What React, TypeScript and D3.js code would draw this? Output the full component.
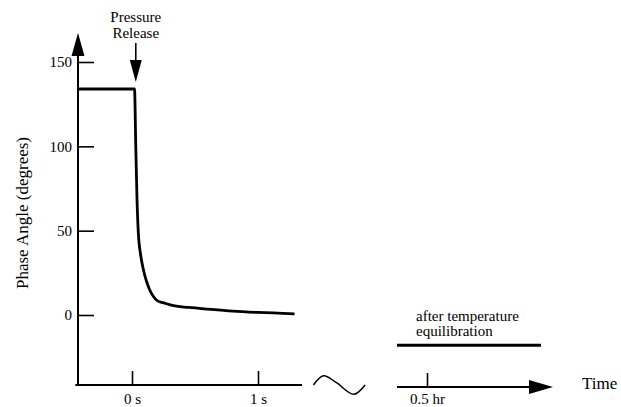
import React, { useEffect, useRef } from 'react';
import * as d3 from 'd3';

// phase angle after pressure release (time in s, angle in degrees)
const fastTimes = [-0.43, 0.02, 0.03, 0.04, 0.05, 0.07, 0.09, 0.115, 0.14, 0.17, 0.2, 0.26, 0.33, 0.45, 0.6, 0.8, 1.0, 1.29];
const fastPhase = [134, 134, 100, 68, 49, 35, 27, 20, 15, 11, 8.5, 7, 5.5, 4.5, 3.5, 2.3, 1.5, 0.7];

// after temperature equilibration (time in hr)
const equilHours = [0.4, 0.88];
const equilPhase = [-18, -18];

const yTicks = [0, 50, 100, 150];
const secTicks = [0, 1];
const hrTicks = [0.5];

// axis break squiggle, in seconds / degrees
const breakTimes = [1.44, 1.52, 1.62, 1.76, 1.85];
const breakPhase = [-41.5, -36, -40, -47, -41.5];

const FONT = 'Liberation Serif';

const App = () => {
    const ref = useRef(null);

    useEffect(() => {
        const svg = d3.select(ref.current);
        svg.selectAll('*').remove();

        const y = d3.scaleLinear().domain([0, 150]).range([315, 62]);
        const x = d3.scaleLinear().domain([0, 1]).range([132, 258]);
        const xh = d3.scaleLinear().domain([0.4, 0.88]).range([397, 541]);

        const axisX = 78;
        const axisY = y(-41.5);

        // y axis with arrow
        svg.append('line')
            .attr('x1', axisX).attr('x2', axisX)
            .attr('y1', axisY + 1).attr('y2', 50)
            .attr('stroke', '#000').attr('stroke-width', 2);
        svg.append('path')
            .attr('d', `M${axisX},33 L${axisX - 6.5},56 L${axisX + 6.5},56 Z`)
            .attr('fill', '#000');

        const yAxis = svg.append('g')
            .attr('transform', `translate(${axisX},0)`)
            .call(d3.axisLeft(y).tickValues(yTicks).tickSize(-16).tickPadding(6));
        yAxis.select('.domain').remove();
        yAxis.selectAll('line').attr('stroke-width', 1.6);

        // first time axis (seconds)
        svg.append('line')
            .attr('x1', x(-0.45)).attr('x2', x(1.35))
            .attr('y1', axisY).attr('y2', axisY)
            .attr('stroke', '#000').attr('stroke-width', 1.8);
        const xAxis = svg.append('g')
            .attr('transform', `translate(0,${axisY})`)
            .call(d3.axisBottom(x).tickValues(secTicks).tickSize(-14).tickPadding(8)
                .tickFormat((d) => `${d} s`));
        xAxis.select('.domain').remove();
        xAxis.selectAll('line').attr('stroke-width', 1.6);

        // break squiggle
        const squiggle = d3.line()
            .x((d) => x(d[0]))
            .y((d) => y(d[1]))
            .curve(d3.curveCatmullRom);
        svg.append('path')
            .attr('d', squiggle(breakTimes.map((t, i) => [t, breakPhase[i]])))
            .attr('fill', 'none').attr('stroke', '#000').attr('stroke-width', 1.5);

        // second time axis (hours)
        const axisY2 = axisY + 2;
        svg.append('line')
            .attr('x1', xh(0.4)).attr('x2', xh(0.85))
            .attr('y1', axisY2).attr('y2', axisY2)
            .attr('stroke', '#000').attr('stroke-width', 1.8);
        svg.append('path')
            .attr('d', `M${xh(0.92)},${axisY2} L${xh(0.84)},${axisY2 - 7} L${xh(0.84)},${axisY2 + 7} Z`)
            .attr('fill', '#000');
        const hAxis = svg.append('g')
            .attr('transform', `translate(0,${axisY2})`)
            .call(d3.axisBottom(xh).tickValues(hrTicks).tickSize(-14).tickPadding(6)
                .tickFormat((d) => `${d} hr`));
        hAxis.select('.domain').remove();
        hAxis.selectAll('line').attr('stroke-width', 1.6);

        // d3 axes put font-family="sans-serif" on their groups; drop it
        svg.selectAll('g').attr('font-family', null).attr('font-size', null);
        svg.selectAll('.tick text').attr('fill', '#000');

        svg.append('text')
            .attr('x', 582).attr('y', 389)
            .style('font-size', '17px')
            .text('Time');

        // y label
        svg.append('text')
            .attr('transform', 'translate(28,213) rotate(-90)')
            .attr('text-anchor', 'middle')
            .style('font-size', '17px')
            .text('Phase Angle (degrees)');

        // data lines
        const line = d3.line()
            .x((d) => x(d[0]))
            .y((d) => y(d[1]))
            .curve(d3.curveMonotoneX);
        svg.append('path')
            .attr('d', line(fastTimes.map((t, i) => [t, fastPhase[i]])))
            .attr('fill', 'none').attr('stroke', '#000')
            .attr('stroke-width', 2.8).attr('stroke-linejoin', 'round');

        const lineH = d3.line()
            .x((d) => xh(d[0]))
            .y((d) => y(d[1]));
        svg.append('path')
            .attr('d', lineH(equilHours.map((t, i) => [t, equilPhase[i]])))
            .attr('fill', 'none').attr('stroke', '#000').attr('stroke-width', 3);

        svg.append('text')
            .attr('x', 416).attr('y', 321)
            .text('after temperature');
        svg.append('text')
            .attr('x', 416).attr('y', 336)
            .text('equilibration');

        // pressure release annotation
        const px = x(0.03);
        svg.append('text')
            .attr('x', px).attr('y', 22)
            .attr('text-anchor', 'middle')
            .text('Pressure');
        svg.append('text')
            .attr('x', px).attr('y', 38)
            .attr('text-anchor', 'middle')
            .text('Release');
        svg.append('line')
            .attr('x1', px).attr('x2', px)
            .attr('y1', 43).attr('y2', 62)
            .attr('stroke', '#000').attr('stroke-width', 1.6);
        svg.append('path')
            .attr('d', `M${px},82 L${px - 6},60 L${px + 6},60 Z`)
            .attr('fill', '#000');
    }, []);

    return (
        <svg
            ref={ref}
            width={621}
            height={407}
            style={{
                position: 'absolute', left: 0, top: 0, background: '#fff',
                fontFamily: FONT, fontSize: '15px',
            }}
        />
    );
};

export default App;
